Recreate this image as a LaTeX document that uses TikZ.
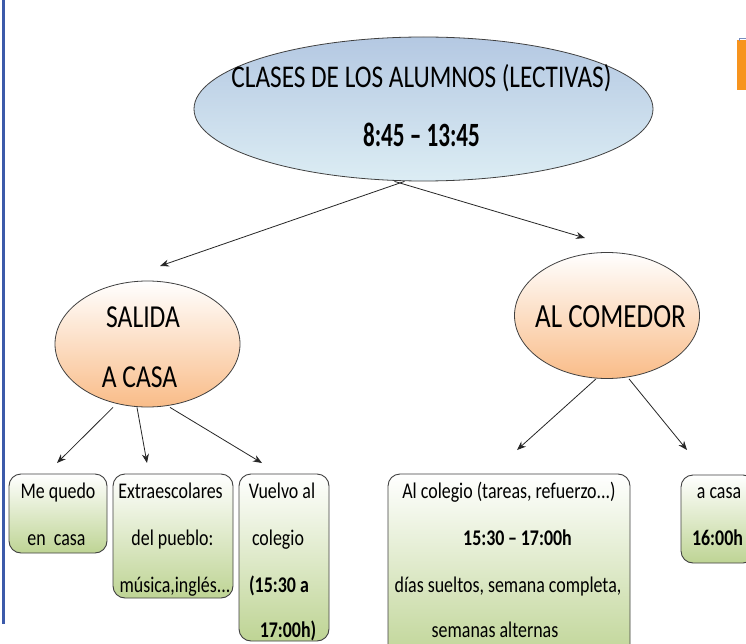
\documentclass[tikz,border=0pt]{standalone}
\usepackage{fontspec}
\usetikzlibrary{shapes.geometric,arrows.meta,shadings,calc}
\newfontfamily\cf[FakeStretch=0.8]{Carlito}
\newfontfamily\cfn[FakeStretch=0.68]{Carlito}
\definecolor{boxgreen}{RGB}{190,212,148}
\definecolor{ovtop}{RGB}{180,200,226}
\definecolor{ovbot}{RGB}{220,237,244}
\definecolor{orbot}{RGB}{249,188,136}
\definecolor{leftblue}{RGB}{60,90,170}
\definecolor{tabor}{RGB}{247,148,30}
\definecolor{tabblue}{RGB}{120,140,190}
\tikzset{
  bigoval/.style={ellipse, draw=black!75, line width=0.8pt, top color=ovtop, bottom color=ovbot, inner sep=0pt},
  orov/.style={ellipse, draw=black!75, line width=0.8pt, top color=white, bottom color=orbot, inner sep=0pt, minimum width=185pt, minimum height=126pt},
  gbox/.style={rectangle, rounded corners=12pt, draw=black!75, line width=0.9pt, top color=white, bottom color=boxgreen, inner sep=0pt},
  bt/.style={anchor=base, inner sep=0pt, font=\cf\fontsize{22.4}{26}\selectfont},
  btb/.style={bt, font=\cf\bfseries\fontsize{22.4}{26}\selectfont},
  ht/.style={anchor=base, inner sep=0pt, font=\cf\fontsize{31.6}{36}\selectfont},
  htb/.style={anchor=base, inner sep=0pt, font=\cfn\bfseries\fontsize{34}{38}\selectfont},
  ct/.style={anchor=base, inner sep=0pt, font=\cf\fontsize{32}{36}\selectfont},
  arr/.style={-{Stealth[length=9pt,width=7pt]}, line width=0.8pt, black!85}
}
\begin{document}
\begin{tikzpicture}[x=1pt,y=-1pt]
\useasboundingbox (0,0) rectangle (746,644);
\clip (0,0) rectangle (746,644);
\fill[white] (0,0) rectangle (746,644);
% decorations
\draw[leftblue, line width=3pt] (3.5,0) -- (3.5,624);
\fill[tabor] (737,40) rectangle (747,90);
\draw[tabblue, line width=0.8pt] (739.5,41) -- (739.5,38) -- (747,38);

% main oval
\node[bigoval, minimum width=459pt, minimum height=144pt] (top) at (423.5,109) {};
\node[ht] (topt1) at (421.5,88) {CLASES DE LOS ALUMNOS (LECTIVAS)};
\node[htb] (topt2) at (421.5,147) {8:45 – 13:45};

% second level
\node[orov] (sal) at (147.5,344) {};
\node[ct] (salt1) at (143,327) {SALIDA};
\node[ct] (salt2) at (139.5,387) {A CASA};
\node[orov] (com) at (607,315.5) {};
\node[ct, font=\cf\fontsize{33.8}{36}\selectfont] (comt) at (610.5,327) {AL COMEDOR};

% boxes
\node[gbox, minimum width=98pt, minimum height=79pt] (b1) at (58,513.5) {};
\node[gbox, minimum width=120pt, minimum height=124pt] (b2) at (173,536) {};
\node[gbox, minimum width=90pt, minimum height=167pt] (b3) at (284,557.5) {};
\node[gbox, minimum width=242pt, minimum height=190pt] (b4) at (509,569) {};
\node[gbox, minimum width=74pt, minimum height=88pt] (b5) at (718,519) {};

\node[bt] (b1l1) at (58,498) {Me quedo};
\node[bt] (b1l2) at (56.5,545) {en\ \ casa};
\node[bt] (b2l1) at (170.5,498) {Extraescolares};
\node[bt] (b2l2) at (172.5,545) {del pueblo:};
\node[bt] (b2l3) at (175,592) {música,inglés...};
\node[bt] (b3l1) at (282,498) {Vuelvo al};
\node[bt] (b3l2) at (278,545) {colegio};
\node[btb] (b3l3) at (279,592) {(15:30 a};
\node[btb] (b3l4) at (288,637) {17:00h)};
\node[bt] (b4l1) at (509,498) {Al colegio (tareas, refuerzo...)};
\node[btb] (b4l2) at (517.5,545) {15:30\,–\,17:00h};
\node[bt] (b4l3) at (508,592) {días sueltos, semana completa,};
\node[bt] (b4l4) at (495,637) {semanas alternas};
\node[bt] (b5l1) at (719,498) {a casa};
\node[btb] (b5l2) at (717.5,545) {16:00h};

% arrow ends
\coordinate (eSal) at (160,266);
\coordinate (eCom) at (585,238);
\coordinate (e1) at (57,463);
\coordinate (e2) at (147,463);
\coordinate (e3) at (262,463);
\coordinate (e4) at (517,450);
\coordinate (e5) at (687,450);

\draw[arr] ([xshift=-19pt]top.south) -- (eSal);
\draw[arr] ([xshift=-29pt]top.south) -- (eCom);
\draw[arr] ([xshift=-34.5pt]sal.south) -- (e1);
\draw[arr] ([xshift=-10.5pt]sal.south) -- (e2);
\draw[arr] ([xshift=22.5pt]sal.south) -- (e3);
\draw[arr] ([xshift=-11pt]com.south) -- (e4);
\draw[arr] ([xshift=22pt]com.south) -- (e5);
\end{tikzpicture}
\end{document}
